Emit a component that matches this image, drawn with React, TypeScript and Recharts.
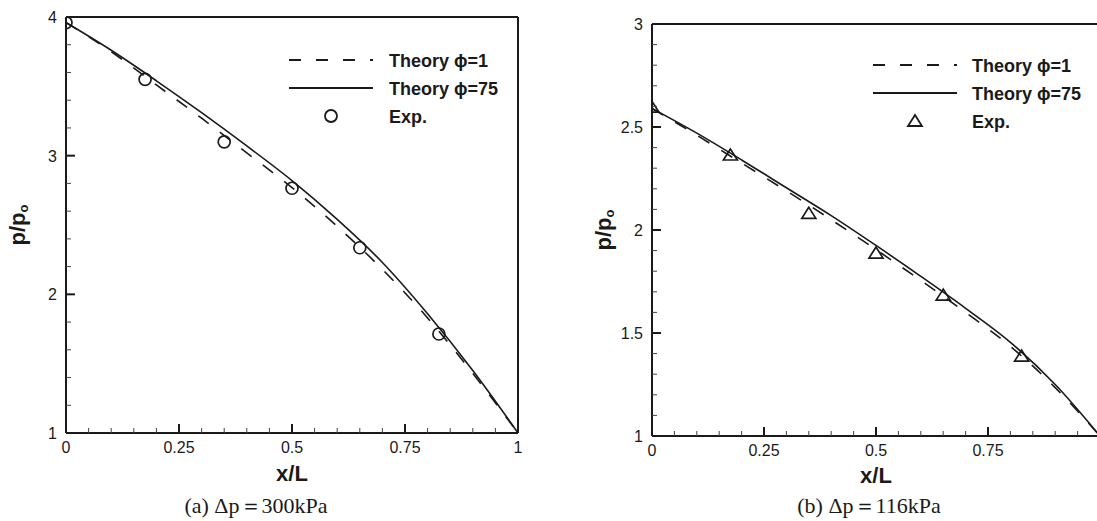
import React from 'react';
import { ComposedChart, Line, Scatter, XAxis, YAxis, ReferenceLine } from 'recharts';

// ---------- data ----------
const xTheory = [0, 0.1, 0.2, 0.3, 0.4, 0.5, 0.6, 0.7, 0.8, 0.9, 1.0];
const leftPhi1 = [3.96, 3.75, 3.51, 3.27, 3.02, 2.77, 2.49, 2.18, 1.83, 1.43, 1.0];
const leftPhi75 = [3.96, 3.76, 3.54, 3.31, 3.07, 2.82, 2.54, 2.23, 1.86, 1.45, 1.0];
const rightPhi1 = [2.59, 2.46, 2.325, 2.19, 2.05, 1.905, 1.755, 1.6, 1.435, 1.235, 1.0];
const rightPhi75 = [2.59, 2.47, 2.34, 2.205, 2.07, 1.925, 1.775, 1.62, 1.455, 1.25, 1.0];

const xExp = [0, 0.175, 0.35, 0.5, 0.65, 0.825];
const leftExp = [3.96, 3.55, 3.1, 2.765, 2.336, 1.714];
const rightExp = [2.596, 2.364, 2.081, 1.888, 1.684, 1.388];

const xTicks = [0, 0.05, 0.1, 0.15, 0.2, 0.25, 0.3, 0.35, 0.4, 0.45, 0.5, 0.55, 0.6, 0.65, 0.7, 0.75, 0.8, 0.85, 0.9, 0.95, 1];
const xMajor = [0, 0.25, 0.5, 0.75, 1];
const leftXLabels = ['0', '0.25', '0.5', '0.75', '1'];
const rightXLabels = ['0', '0.25', '0.5', '0.75', ''];

const leftYTicks = [1, 1.2, 1.4, 1.6, 1.8, 2, 2.2, 2.4, 2.6, 2.8, 3, 3.2, 3.4, 3.6, 3.8, 4];
const leftYMajor = [1, 2, 3, 4];
const leftYLabels = ['1', '2', '3', '4'];

const rightYTicks = [1, 1.1, 1.2, 1.3, 1.4, 1.5, 1.6, 1.7, 1.8, 1.9, 2, 2.1, 2.2, 2.3, 2.4, 2.5, 2.6, 2.7, 2.8, 2.9, 3];
const rightYMajor = [1, 1.5, 2, 2.5, 3];
const rightYLabels = ['1', '1.5', '2', '2.5', '3'];

const legendLabels = ['Theory \u03D5=1', 'Theory \u03D5=75', 'Exp.'];
const captions = ['(a) \u0394p\uFF1D300kPa', '(b) \u0394p\uFF1D116kPa'];
const xTitle = 'x/L';

const toPts = (xs: number[], ys: number[]) => xs.map((x, i) => ({ x, y: ys[i] }));

// ---------- styles ----------
const SANS = '"Liberation Sans", Arial, Helvetica, sans-serif';
const SERIF = '"Liberation Serif", "Times New Roman", serif';
const INK = '#1a1a1a';
const DASH = '13 14';

const findIdx = (arr: number[], v: number) => arr.findIndex((m) => Math.abs(m - v) < 1e-6);

const makeXTick = (labels: string[]) => (props: any) => {
  const { x, y, payload } = props;
  const idx = findIdx(xMajor, payload.value);
  const major = idx >= 0;
  return (
    <g>
      <line x1={x} x2={x} y1={y} y2={y - (major ? 9 : 5)} stroke={major ? INK : '#444'} strokeWidth={major ? 2 : 1} />
      {major && labels[idx] ? (
        <text x={x} y={y + 20} textAnchor="middle" fontSize={16} fill={INK} fontFamily={SANS}>
          {labels[idx]}
        </text>
      ) : null}
    </g>
  );
};

const makeYTick = (majors: number[], labels: string[]) => (props: any) => {
  const { x, y, payload } = props;
  const idx = findIdx(majors, payload.value);
  const major = idx >= 0;
  return (
    <g>
      <line x1={x} x2={x + (major ? 9 : 5)} y1={y} y2={y} stroke={major ? INK : '#444'} strokeWidth={major ? 2 : 1} />
      {major ? (
        <text x={x - 9} y={y + 6} textAnchor="end" fontSize={16} fill={INK} fontFamily={SANS}>
          {labels[idx]}
        </text>
      ) : null}
    </g>
  );
};

const CircleMark = (props: any) => {
  const { cx, cy } = props;
  return <circle cx={cx} cy={cy} r={6} fill="none" stroke={INK} strokeWidth={1.7} />;
};

const TriangleMark = (props: any) => {
  const { cx, cy } = props;
  return (
    <polygon
      points={`${cx},${cy - 6} ${cx - 7},${cy + 5} ${cx + 7},${cy + 5}`}
      fill="none"
      stroke={INK}
      strokeWidth={1.7}
      strokeLinejoin="miter"
    />
  );
};

type PanelProps = {
  left: number;
  width: number;
  margin: { top: number; right: number; bottom: number; left: number };
  yDomain: [number, number];
  yTicks: number[];
  yMajor: number[];
  yLabels: string[];
  xLabels: string[];
  phi1: number[];
  phi75: number[];
  exp: number[];
  shape: any;
};

const Panel = (p: PanelProps) => (
  <div style={{ position: 'absolute', left: p.left, top: 0 }}>
    <ComposedChart width={p.width} height={521} margin={p.margin}>
      <XAxis
        type="number"
        dataKey="x"
        domain={[0, 1]}
        ticks={xTicks}
        interval={0}
        height={1}
        tickSize={0}
        tickMargin={0}
        tickLine={false}
        axisLine={{ stroke: INK, strokeWidth: 2 }}
        tick={makeXTick(p.xLabels)}
        allowDataOverflow
      />
      <YAxis
        type="number"
        dataKey="y"
        domain={p.yDomain}
        ticks={p.yTicks}
        interval={0}
        width={1}
        tickSize={0}
        tickMargin={0}
        tickLine={false}
        axisLine={{ stroke: INK, strokeWidth: 2 }}
        tick={makeYTick(p.yMajor, p.yLabels)}
        allowDataOverflow
      />
      <ReferenceLine y={p.yDomain[1]} stroke={INK} strokeWidth={2} />
      <ReferenceLine x={1} stroke={INK} strokeWidth={2} />
      <Line
        data={toPts(xTheory, p.phi1)}
        dataKey="y"
        type="monotone"
        stroke={INK}
        strokeWidth={1.6}
        strokeDasharray={DASH}
        dot={false}
        isAnimationActive={false}
      />
      <Line
        data={toPts(xTheory, p.phi75)}
        dataKey="y"
        type="monotone"
        stroke={INK}
        strokeWidth={1.6}
        dot={false}
        isAnimationActive={false}
      />
      <Scatter data={toPts(xExp, p.exp)} dataKey="y" shape={p.shape} isAnimationActive={false} />
    </ComposedChart>
  </div>
);

const YTitle = ({ x, y }: { x: number; y: number }) => (
  <text
    x={x}
    y={y}
    transform={`rotate(-90, ${x}, ${y})`}
    textAnchor="middle"
    fontSize={22}
    fontWeight="bold"
    fill={INK}
    fontFamily={SANS}
  >
    p/p
    <tspan fontSize={13} dy={3}>o</tspan>
  </text>
);

const LegendBlock = ({ lx, y0, tx, tri }: { lx: number; y0: number; tx: number; tri: boolean }) => {
  const rows = [y0, y0 + 28, y0 + 56];
  const mx = lx + 42;
  return (
    <g fontFamily={SANS} fontWeight="bold" fontSize={18} fill={INK}>
      <line x1={lx} x2={lx + 84} y1={rows[0]} y2={rows[0]} stroke={INK} strokeWidth={2} strokeDasharray="12 15" />
      <line x1={lx} x2={lx + 84} y1={rows[1]} y2={rows[1]} stroke={INK} strokeWidth={2} />
      {tri ? (
        <polygon
          points={`${mx},${rows[2] - 6} ${mx - 7},${rows[2] + 5} ${mx + 7},${rows[2] + 5}`}
          fill="none"
          stroke={INK}
          strokeWidth={1.8}
        />
      ) : (
        <circle cx={mx} cy={rows[2]} r={6} fill="none" stroke={INK} strokeWidth={1.8} />
      )}
      {legendLabels.map((t, i) => (
        <text key={t} x={tx} y={rows[i] + 7}>
          {t}
        </text>
      ))}
    </g>
  );
};

export default function App() {
  return (
    <div
      style={{
        position: 'absolute',
        left: 0,
        top: 0,
        width: 1097,
        height: 521,
        overflow: 'hidden',
        background: '#fff',
      }}
    >
      <Panel
        left={0}
        width={540}
        margin={{ top: 17, right: 22, bottom: 87, left: 65 }}
        yDomain={[1, 4]}
        yTicks={leftYTicks}
        yMajor={leftYMajor}
        yLabels={leftYLabels}
        xLabels={leftXLabels}
        phi1={leftPhi1}
        phi75={leftPhi75}
        exp={leftExp}
        shape={CircleMark}
      />
      <Panel
        left={560}
        width={560}
        margin={{ top: 24, right: 20, bottom: 84, left: 91 }}
        yDomain={[1, 3]}
        yTicks={rightYTicks}
        yMajor={rightYMajor}
        yLabels={rightYLabels}
        xLabels={rightXLabels}
        phi1={rightPhi1}
        phi75={rightPhi75}
        exp={rightExp}
        shape={TriangleMark}
      />
      <svg
        width={1097}
        height={521}
        style={{ position: 'absolute', left: 0, top: 0, pointerEvents: 'none' }}
      >
        <YTitle x={25} y={225} />
        <YTitle x={611} y={230} />
        <text x={292} y={481} textAnchor="middle" fontSize={22} fontWeight="bold" fill={INK} fontFamily={SANS}>
          {xTitle}
        </text>
        <text x={876} y={483} textAnchor="middle" fontSize={22} fontWeight="bold" fill={INK} fontFamily={SANS}>
          {xTitle}
        </text>
        <LegendBlock lx={289} y0={60} tx={389} tri={false} />
        <LegendBlock lx={873} y0={65} tx={972} tri={true} />
        <text x={256} y={513} textAnchor="middle" fontSize={22} fill={INK} fontFamily={SERIF}>
          {captions[0]}
        </text>
        <text x={869} y={513} textAnchor="middle" fontSize={22} fill={INK} fontFamily={SERIF}>
          {captions[1]}
        </text>
      </svg>
    </div>
  );
}
